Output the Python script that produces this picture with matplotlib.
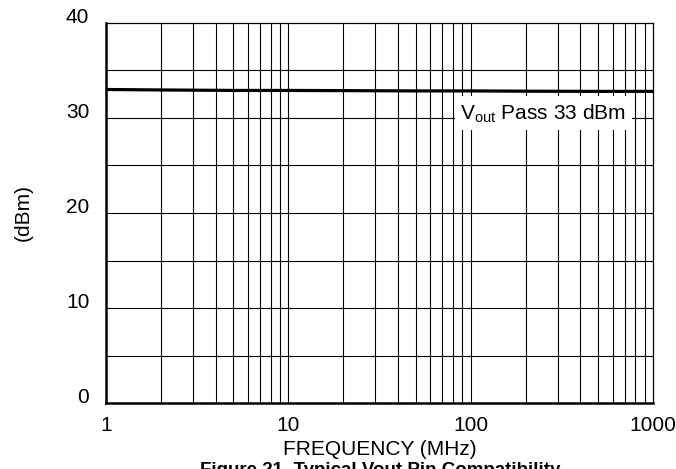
import numpy as np
import matplotlib
matplotlib.use("Agg")
import matplotlib.pyplot as plt

plt.rcParams['font.family'] = ['Liberation Sans', 'DejaVu Sans']

# data
freq = [1, 2, 5, 10, 20, 50, 100, 200, 500, 1000]
vout = [33.0, 32.95, 32.9, 32.9, 32.88, 32.85, 32.85, 32.82, 32.8, 32.8]
xticks = [1, 10, 100, 1000]
xtick_labels = ['1', '10', '100', '1000']
yticks = [0, 10, 20, 30, 40]

fig = plt.figure(figsize=(6.76, 4.69), dpi=100)
ax = fig.add_axes([0.1568, 0.1407, 0.8092, 0.8103])

ax.plot(freq, vout, color='black', lw=2.3, solid_capstyle='butt', zorder=3)

ax.set_xscale('log')
ax.set_xlim(1, 1000)
ax.set_ylim(0, 40)

# grid: every decade step and every 5 dBm
minor_x = [m * d for d in (1, 10, 100) for m in range(2, 10)]
for x in minor_x + [10, 100]:
    ax.axvline(x, color='black', lw=0.8, zorder=1)
for y in np.arange(5, 40, 5):
    ax.axhline(y, color='black', lw=0.8, zorder=1)

ax.set_xticks(xticks)
ax.set_xticklabels(xtick_labels)
ax.set_xticks([], minor=True)
ax.set_yticks(yticks)
ax.tick_params(length=0, labelsize=15)
ax.tick_params(axis='x', pad=9)
ax.tick_params(axis='y', pad=12)
for lab in ax.get_yticklabels():
    lab.set_va('baseline')

for s in ('left', 'bottom'):
    ax.spines[s].set_linewidth(1.8)
for s in ('top', 'right'):
    ax.spines[s].set_linewidth(0.9)

ax.text(250, 30.5, r'V$_{\mathregular{out}}$ Pass 33 dBm', fontsize=15,
        ha='center', va='center', zorder=4,
        bbox=dict(facecolor='white', edgecolor='none', pad=4))

ax.set_xlabel('FREQUENCY (MHz)', fontsize=15, labelpad=4)
ax.set_ylabel('(dBm)', fontsize=15, labelpad=24)

fig.text(0.562, 0.015, 'Figure 21. Typical Vout Pin Compatibility',
         fontsize=13.5, fontweight='bold', ha='center', va='top')

fig.savefig('out.png', dpi=100)
